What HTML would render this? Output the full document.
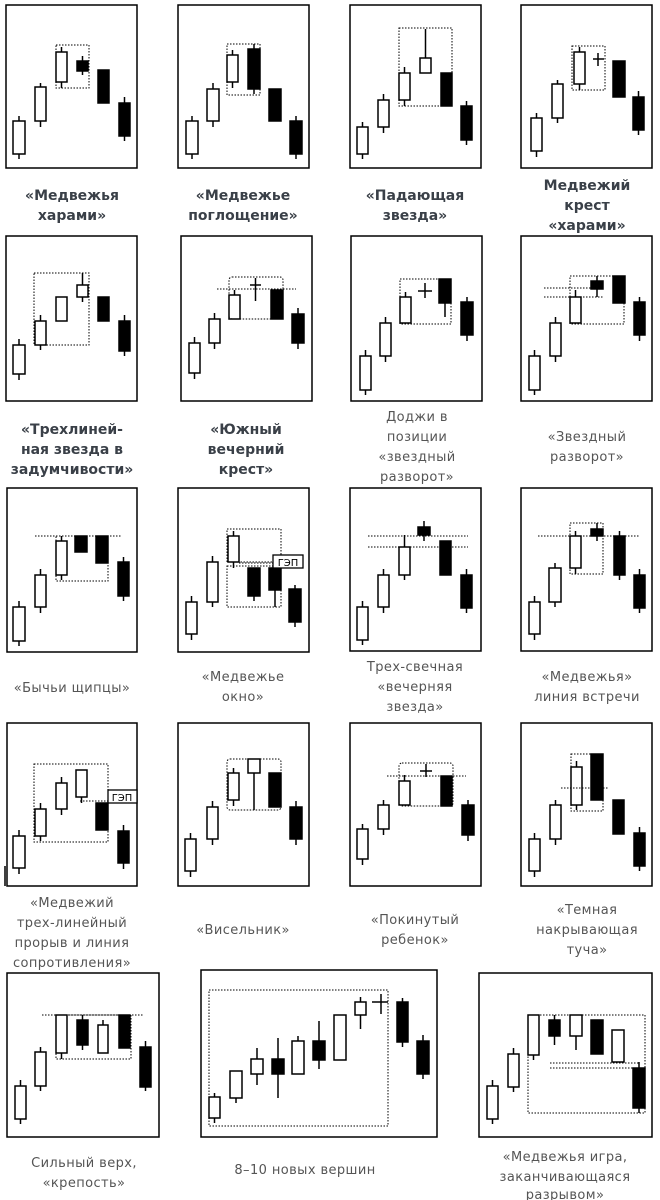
<!DOCTYPE html>
<html><head><meta charset="utf-8"><style>
body{margin:0;background:#fff}
svg{display:block}
.f{fill:none;stroke:#000;stroke-width:1.5}
.w{fill:#fff;stroke:#000;stroke-width:1.5}
.b{fill:#000;stroke:#000;stroke-width:1.5}
.k{stroke:#000;stroke-width:1.5}
.d{fill:none;stroke:#000;stroke-width:1;stroke-dasharray:1.5 1.5}
.t{font-family:"DejaVu Sans",sans-serif;font-size:14px;fill:#3a4048;text-anchor:middle;font-weight:bold}
.n{font-family:"DejaVu Sans",sans-serif;font-size:13px;letter-spacing:0.4px;fill:#555;text-anchor:middle}
</style></head><body>
<svg width="660" height="1200" viewBox="0 0 660 1200" xmlns="http://www.w3.org/2000/svg">
<!-- frames -->
<rect class="f" x="6" y="5" width="131" height="163"/>
<rect class="f" x="178" y="5" width="131" height="163"/>
<rect class="f" x="350" y="5" width="131" height="163"/>
<rect class="f" x="521" y="5" width="131" height="163"/>
<rect class="f" x="6" y="236" width="131" height="165"/>
<rect class="f" x="181" y="236" width="131" height="165"/>
<rect class="f" x="351" y="236" width="131" height="165"/>
<rect class="f" x="521" y="236" width="131" height="165"/>
<rect class="f" x="7" y="488" width="130" height="164"/>
<rect class="f" x="178" y="488" width="131" height="164"/>
<rect class="f" x="350" y="488" width="131" height="163"/>
<rect class="f" x="521" y="488" width="131" height="163"/>
<rect class="f" x="7" y="723" width="130" height="163"/>
<rect class="f" x="178" y="723" width="131" height="163"/>
<rect class="f" x="350" y="723" width="131" height="163"/>
<rect class="f" x="521" y="723" width="131" height="163"/>
<rect class="f" x="7" y="973" width="152" height="164"/>
<rect class="f" x="201" y="970" width="236" height="167"/>
<rect class="f" x="479" y="973" width="173" height="164"/>

<!-- P1 -->
<line class="k" x1="19" y1="116" x2="19" y2="159"/><rect class="w" x="13" y="121" width="12" height="33"/>
<line class="k" x1="40.5" y1="83" x2="40.5" y2="127"/><rect class="w" x="35" y="87" width="11" height="34"/>
<line class="k" x1="61.5" y1="47" x2="61.5" y2="88"/><rect class="w" x="56" y="52" width="11" height="30"/>
<line class="k" x1="82.5" y1="56" x2="82.5" y2="75"/><rect class="b" x="77" y="61" width="11" height="10"/>
<rect class="b" x="98" y="70" width="11" height="33"/>
<line class="k" x1="124.5" y1="97" x2="124.5" y2="141"/><rect class="b" x="119" y="103" width="11" height="33"/>
<rect class="d" x="56" y="45" width="33" height="43"/>
<!-- P2 -->
<line class="k" x1="192" y1="116" x2="192" y2="159"/><rect class="w" x="186" y="121" width="12" height="33"/>
<line class="k" x1="213" y1="83" x2="213" y2="127"/><rect class="w" x="207" y="89" width="12" height="32"/>
<line class="k" x1="232.5" y1="50" x2="232.5" y2="88"/><rect class="w" x="227" y="55" width="11" height="27"/>
<line class="k" x1="254" y1="44" x2="254" y2="94"/><rect class="b" x="248" y="49" width="12" height="40"/>
<rect class="b" x="269" y="89" width="12" height="32"/>
<line class="k" x1="296" y1="116" x2="296" y2="159"/><rect class="b" x="290" y="121" width="12" height="33"/>
<rect class="d" x="227" y="44" width="33" height="51"/>
<!-- P3 -->
<line class="k" x1="362.5" y1="122" x2="362.5" y2="159"/><rect class="w" x="357" y="127" width="11" height="27"/>
<line class="k" x1="383.5" y1="94" x2="383.5" y2="133"/><rect class="w" x="378" y="100" width="11" height="27"/>
<line class="k" x1="404.5" y1="67" x2="404.5" y2="106"/><rect class="w" x="399" y="73" width="11" height="27"/>
<line class="k" x1="425.5" y1="29" x2="425.5" y2="58"/><rect class="w" x="420" y="58" width="11" height="15"/>
<rect class="b" x="441" y="73" width="11" height="33"/>
<line class="k" x1="466.5" y1="101" x2="466.5" y2="145"/><rect class="b" x="461" y="106" width="11" height="34"/>
<rect class="d" x="399" y="28" width="53" height="78"/>
<!-- P4 -->
<line class="k" x1="536.5" y1="113" x2="536.5" y2="157"/><rect class="w" x="531" y="118" width="11" height="33"/>
<line class="k" x1="557.5" y1="80" x2="557.5" y2="123"/><rect class="w" x="552" y="84" width="11" height="34"/>
<line class="k" x1="579.5" y1="47" x2="579.5" y2="90"/><rect class="w" x="574" y="52" width="11" height="32"/>
<line class="k" x1="598" y1="53" x2="598" y2="66"/><line class="k" x1="593" y1="59" x2="604" y2="59"/>
<rect class="b" x="613" y="61" width="12" height="36"/>
<line class="k" x1="638.5" y1="91" x2="638.5" y2="135"/><rect class="b" x="633" y="97" width="11" height="33"/>
<rect class="d" x="572" y="46" width="33" height="44"/>

<!-- P5 -->
<line class="k" x1="19" y1="339" x2="19" y2="380"/><rect class="w" x="13" y="345" width="12" height="29"/>
<line class="k" x1="40.5" y1="315" x2="40.5" y2="350"/><rect class="w" x="35" y="321" width="11" height="24"/>
<rect class="w" x="56" y="297" width="11" height="24"/>
<line class="k" x1="82.5" y1="273" x2="82.5" y2="302"/><rect class="w" x="77" y="285" width="11" height="12"/>
<rect class="b" x="98" y="297" width="11" height="24"/>
<line class="k" x1="124.5" y1="315" x2="124.5" y2="356"/><rect class="b" x="119" y="321" width="11" height="30"/>
<rect class="d" x="34" y="273" width="55" height="72"/>
<!-- P6 -->
<line class="k" x1="194.5" y1="337" x2="194.5" y2="379"/><rect class="w" x="189" y="343" width="11" height="30"/>
<line class="k" x1="214.5" y1="313" x2="214.5" y2="349"/><rect class="w" x="209" y="319" width="11" height="24"/>
<line class="k" x1="234.5" y1="290" x2="234.5" y2="295"/><rect class="w" x="229" y="295" width="11" height="24"/>
<line class="k" x1="255.5" y1="278" x2="255.5" y2="301"/><line class="k" x1="250" y1="285" x2="261" y2="285"/>
<rect class="b" x="271" y="290" width="12" height="29"/>
<line class="k" x1="298" y1="308" x2="298" y2="349"/><rect class="b" x="292" y="314" width="12" height="29"/>
<rect class="d" x="229" y="277" width="54" height="42" rx="3"/>
<line class="d" x1="217" y1="289" x2="296" y2="289"/>
<!-- P7 -->
<line class="k" x1="365.5" y1="350" x2="365.5" y2="395"/><rect class="w" x="360" y="356" width="11" height="34"/>
<line class="k" x1="385.5" y1="317" x2="385.5" y2="362"/><rect class="w" x="380" y="323" width="11" height="33"/>
<line class="k" x1="405.5" y1="292" x2="405.5" y2="297"/><rect class="w" x="400" y="297" width="11" height="26"/>
<line class="k" x1="425" y1="283" x2="425" y2="298"/><line class="k" x1="418" y1="291" x2="432" y2="291"/>
<line class="k" x1="445" y1="279" x2="445" y2="317"/><rect class="b" x="439" y="279" width="12" height="24"/>
<line class="k" x1="467" y1="297" x2="467" y2="341"/><rect class="b" x="461" y="302" width="12" height="33"/>
<rect class="d" x="400" y="279" width="51" height="45"/>
<!-- P8 -->
<line class="k" x1="534.5" y1="350" x2="534.5" y2="395"/><rect class="w" x="529" y="356" width="11" height="34"/>
<line class="k" x1="555.5" y1="317" x2="555.5" y2="362"/><rect class="w" x="550" y="323" width="11" height="33"/>
<line class="k" x1="575.5" y1="290" x2="575.5" y2="297"/><rect class="w" x="570" y="297" width="11" height="26"/>
<line class="k" x1="597" y1="276" x2="597" y2="297"/><rect class="b" x="591" y="281" width="12" height="8"/>
<rect class="b" x="613" y="276" width="12" height="27"/>
<line class="k" x1="639.5" y1="297" x2="639.5" y2="341"/><rect class="b" x="634" y="302" width="11" height="33"/>
<rect class="d" x="570" y="276" width="54" height="48"/>
<line class="d" x1="544" y1="288" x2="604" y2="288"/><line class="d" x1="544" y1="297" x2="604" y2="297"/>

<!-- P9 -->
<line class="k" x1="19" y1="601" x2="19" y2="646"/><rect class="w" x="13" y="607" width="12" height="34"/>
<line class="k" x1="40.5" y1="569" x2="40.5" y2="613"/><rect class="w" x="35" y="575" width="11" height="32"/>
<line class="k" x1="61.5" y1="536" x2="61.5" y2="580"/><rect class="w" x="56" y="541" width="11" height="34"/>
<rect class="b" x="75" y="536" width="12" height="16"/>
<rect class="b" x="96" y="536" width="12" height="27"/>
<line class="k" x1="123.5" y1="557" x2="123.5" y2="601"/><rect class="b" x="118" y="562" width="11" height="34"/>
<line class="d" x1="35" y1="536" x2="121" y2="536"/>
<rect class="d" x="56" y="536" width="52" height="45"/>
<!-- P10 -->
<line class="k" x1="191.5" y1="596" x2="191.5" y2="640"/><rect class="w" x="186" y="602" width="11" height="32"/>
<line class="k" x1="212.5" y1="556" x2="212.5" y2="607"/><rect class="w" x="207" y="562" width="11" height="40"/>
<line class="k" x1="233.5" y1="531" x2="233.5" y2="568"/><rect class="w" x="228" y="536" width="11" height="26"/>
<line class="k" x1="254" y1="568" x2="254" y2="601"/><rect class="b" x="248" y="568" width="12" height="28"/>
<line class="k" x1="275" y1="568" x2="275" y2="607"/><rect class="b" x="269" y="568" width="12" height="22"/>
<line class="k" x1="295" y1="585" x2="295" y2="627"/><rect class="b" x="289" y="589" width="12" height="33"/>
<rect class="d" x="227" y="529" width="54" height="33"/>
<rect class="d" x="227" y="566" width="54" height="41"/>
<line class="d" x1="239" y1="563" x2="273" y2="563"/>
<rect x="273" y="555" width="30" height="13" fill="#fff" stroke="#000" stroke-width="1.3"/>
<text x="288" y="566" font-family="DejaVu Sans,sans-serif" font-size="10" text-anchor="middle">ГЭП</text>
<!-- P11 -->
<line class="k" x1="362.5" y1="601" x2="362.5" y2="645"/><rect class="w" x="357" y="607" width="11" height="33"/>
<line class="k" x1="383.5" y1="569" x2="383.5" y2="613"/><rect class="w" x="378" y="575" width="11" height="32"/>
<line class="k" x1="404.5" y1="535" x2="404.5" y2="580"/><rect class="w" x="399" y="547" width="11" height="28"/>
<line class="k" x1="424" y1="521" x2="424" y2="541"/><rect class="b" x="418" y="527" width="12" height="8"/>
<rect class="b" x="440" y="541" width="11" height="34"/>
<line class="k" x1="466.5" y1="569" x2="466.5" y2="613"/><rect class="b" x="461" y="575" width="11" height="33"/>
<line class="d" x1="368" y1="536" x2="468" y2="536"/><line class="d" x1="368" y1="547" x2="468" y2="547"/>
<!-- P12 -->
<line class="k" x1="534.5" y1="596" x2="534.5" y2="640"/><rect class="w" x="529" y="602" width="11" height="32"/>
<line class="k" x1="555" y1="563" x2="555" y2="607"/><rect class="w" x="549" y="568" width="12" height="34"/>
<line class="k" x1="575.5" y1="531" x2="575.5" y2="574"/><rect class="w" x="570" y="536" width="11" height="32"/>
<line class="k" x1="597" y1="523" x2="597" y2="541"/><rect class="b" x="591" y="529" width="12" height="7"/>
<line class="k" x1="619.5" y1="531" x2="619.5" y2="580"/><rect class="b" x="614" y="536" width="11" height="39"/>
<line class="k" x1="639.5" y1="569" x2="639.5" y2="613"/><rect class="b" x="634" y="575" width="11" height="33"/>
<line class="d" x1="538" y1="536" x2="640" y2="536"/>
<rect class="d" x="570" y="523" width="33" height="51"/>

<!-- P13 -->
<line class="k" x1="5" y1="866" x2="5" y2="886"/>
<line class="k" x1="19" y1="830" x2="19" y2="874"/><rect class="w" x="13" y="836" width="12" height="32"/>
<line class="k" x1="40.5" y1="803" x2="40.5" y2="841"/><rect class="w" x="35" y="809" width="11" height="27"/>
<line class="k" x1="61.5" y1="777" x2="61.5" y2="815"/><rect class="w" x="56" y="783" width="11" height="26"/>
<line class="k" x1="81.5" y1="770" x2="81.5" y2="803"/><rect class="w" x="76" y="770" width="11" height="27"/>
<rect class="b" x="96" y="803" width="12" height="27"/>
<line class="k" x1="123.5" y1="825" x2="123.5" y2="869"/><rect class="b" x="118" y="831" width="11" height="32"/>
<rect class="d" x="34" y="764" width="74" height="78"/>
<line class="d" x1="80" y1="801" x2="108" y2="801"/>
<rect x="108" y="790" width="29" height="13" fill="#fff" stroke="#000" stroke-width="1.3"/>
<text x="122" y="801" font-family="DejaVu Sans,sans-serif" font-size="10" text-anchor="middle">ГЭП</text>
<!-- P14 -->
<line class="k" x1="190.5" y1="833" x2="190.5" y2="877"/><rect class="w" x="185" y="839" width="11" height="32"/>
<line class="k" x1="212.5" y1="801" x2="212.5" y2="845"/><rect class="w" x="207" y="807" width="11" height="32"/>
<line class="k" x1="233.5" y1="768" x2="233.5" y2="806"/><rect class="w" x="228" y="773" width="11" height="27"/>
<line class="k" x1="254" y1="773" x2="254" y2="810"/><rect class="w" x="248" y="759" width="12" height="14"/>
<rect class="b" x="269" y="773" width="12" height="34"/>
<line class="k" x1="296" y1="801" x2="296" y2="845"/><rect class="b" x="290" y="807" width="12" height="32"/>
<rect class="d" x="227" y="759" width="54" height="51" rx="3"/>
<!-- P15 -->
<line class="k" x1="362.5" y1="824" x2="362.5" y2="865"/><rect class="w" x="357" y="829" width="11" height="30"/>
<line class="k" x1="383.5" y1="800" x2="383.5" y2="835"/><rect class="w" x="378" y="805" width="11" height="24"/>
<line class="k" x1="404.5" y1="775" x2="404.5" y2="781"/><rect class="w" x="399" y="781" width="11" height="24"/>
<line class="k" x1="426" y1="764" x2="426" y2="777"/><line class="k" x1="420" y1="771" x2="432" y2="771"/>
<rect class="b" x="441" y="776" width="11" height="30"/>
<line class="k" x1="468" y1="800" x2="468" y2="841"/><rect class="b" x="462" y="805" width="12" height="30"/>
<rect class="d" x="399" y="763" width="54" height="43" rx="3"/>
<line class="d" x1="387" y1="776" x2="466" y2="776"/>
<!-- P16 -->
<line class="k" x1="534.5" y1="833" x2="534.5" y2="877"/><rect class="w" x="529" y="839" width="11" height="32"/>
<line class="k" x1="555.5" y1="800" x2="555.5" y2="845"/><rect class="w" x="550" y="805" width="11" height="34"/>
<line class="k" x1="576.5" y1="761" x2="576.5" y2="810"/><rect class="w" x="571" y="767" width="11" height="38"/>
<rect class="b" x="591" y="754" width="12" height="46"/>
<rect class="b" x="613" y="800" width="11" height="34"/>
<line class="k" x1="639.5" y1="827" x2="639.5" y2="871"/><rect class="b" x="634" y="833" width="11" height="33"/>
<rect class="d" x="571" y="754" width="32" height="57"/>
<line class="d" x1="561" y1="788" x2="609" y2="788"/>

<!-- P17 -->
<line class="k" x1="20.5" y1="1080" x2="20.5" y2="1124"/><rect class="w" x="15" y="1086" width="11" height="33"/>
<line class="k" x1="40.5" y1="1047" x2="40.5" y2="1091"/><rect class="w" x="35" y="1052" width="11" height="34"/>
<line class="k" x1="61.5" y1="1015" x2="61.5" y2="1059"/><rect class="w" x="56" y="1015" width="11" height="38"/>
<line class="k" x1="82.5" y1="1015" x2="82.5" y2="1050"/><rect class="b" x="77" y="1020" width="11" height="25"/>
<line class="k" x1="103" y1="1020" x2="103" y2="1025"/><rect class="w" x="98" y="1025" width="10" height="28"/>
<rect class="b" x="119" y="1015" width="11" height="33"/>
<line class="k" x1="145.5" y1="1041" x2="145.5" y2="1091"/><rect class="b" x="140" y="1047" width="11" height="40"/>
<line class="d" x1="42" y1="1015" x2="143" y2="1015"/>
<rect class="d" x="56" y="1015" width="75" height="44"/>
<!-- P18 -->
<rect class="d" x="209" y="990" width="179" height="136"/>
<line class="k" x1="214.5" y1="1093" x2="214.5" y2="1123"/><rect class="w" x="209" y="1097" width="11" height="21"/>
<line class="k" x1="236" y1="1071" x2="236" y2="1103"/><rect class="w" x="230" y="1071" width="12" height="27"/>
<line class="k" x1="257" y1="1048" x2="257" y2="1085"/><rect class="w" x="251" y="1059" width="12" height="15"/>
<line class="k" x1="278" y1="1038" x2="278" y2="1098"/><rect class="b" x="272" y="1059" width="12" height="15"/>
<line class="k" x1="298" y1="1036" x2="298" y2="1041"/><rect class="w" x="292" y="1041" width="12" height="33"/>
<line class="k" x1="319" y1="1021" x2="319" y2="1069"/><rect class="b" x="313" y="1041" width="12" height="19"/>
<rect class="w" x="334" y="1015" width="12" height="45"/>
<line class="k" x1="360.5" y1="997" x2="360.5" y2="1029"/><rect class="w" x="355" y="1002" width="11" height="13"/>
<line class="k" x1="381" y1="994" x2="381" y2="1014"/><line class="k" x1="372" y1="1002" x2="388" y2="1002"/>
<line class="k" x1="402.5" y1="998" x2="402.5" y2="1047"/><rect class="b" x="397" y="1002" width="11" height="40"/>
<line class="k" x1="423" y1="1035" x2="423" y2="1079"/><rect class="b" x="417" y="1041" width="12" height="33"/>
<!-- P19 -->
<line class="k" x1="492.5" y1="1080" x2="492.5" y2="1124"/><rect class="w" x="487" y="1086" width="11" height="33"/>
<line class="k" x1="513.5" y1="1048" x2="513.5" y2="1092"/><rect class="w" x="508" y="1054" width="11" height="33"/>
<line class="k" x1="533.5" y1="1015" x2="533.5" y2="1060"/><rect class="w" x="528" y="1015" width="11" height="40"/>
<line class="k" x1="554.5" y1="1015" x2="554.5" y2="1045"/><rect class="b" x="549" y="1020" width="11" height="16"/>
<line class="k" x1="576" y1="1015" x2="576" y2="1050"/><rect class="w" x="570" y="1015" width="12" height="21"/>
<rect class="b" x="591" y="1020" width="12" height="34"/>
<rect class="w" x="612" y="1030" width="12" height="32"/>
<line class="k" x1="639" y1="1062" x2="639" y2="1113"/><rect class="b" x="633" y="1068" width="12" height="40"/>
<rect class="d" x="528" y="1015" width="117" height="98"/>
<line class="d" x1="550" y1="1063" x2="640" y2="1063"/><line class="d" x1="550" y1="1068" x2="640" y2="1068"/>

<!-- labels -->
<text class="t" x="72" y="200">«Медвежья</text><text class="t" x="72" y="220">харами»</text>
<text class="t" x="243" y="200">«Медвежье</text><text class="t" x="243" y="220">поглощение»</text>
<text class="t" x="415" y="200">«Падающая</text><text class="t" x="415" y="220">звезда»</text>
<text class="t" x="587" y="190">Медвежий</text><text class="t" x="587" y="210">крест</text><text class="t" x="587" y="230">«харами»</text>
<text class="t" x="72" y="434">«Трехлиней-</text><text class="t" x="72" y="454">ная звезда в</text><text class="t" x="72" y="474">задумчивости»</text>
<text class="t" x="246" y="434">«Южный</text><text class="t" x="246" y="454">вечерний</text><text class="t" x="246" y="474">крест»</text>
<text class="n" x="417" y="421">Доджи в</text><text class="n" x="417" y="441">позиции</text><text class="n" x="417" y="461">«звездный</text><text class="n" x="417" y="481">разворот»</text>
<text class="n" x="587" y="441">«Звездный</text><text class="n" x="587" y="461">разворот»</text>
<text class="n" x="72" y="692">«Бычьи щипцы»</text>
<text class="n" x="243" y="681">«Медвежье</text><text class="n" x="243" y="701">окно»</text>
<text class="n" x="415" y="671">Трех-свечная</text><text class="n" x="415" y="691">«вечерняя</text><text class="n" x="415" y="711">звезда»</text>
<text class="n" x="587" y="681">«Медвежья»</text><text class="n" x="587" y="701">линия встречи</text>
<text class="n" x="72" y="907">«Медвежий</text><text class="n" x="72" y="927">трех-линейный</text><text class="n" x="72" y="947">прорыв и линия</text><text class="n" x="72" y="967">сопротивления»</text>
<text class="n" x="243" y="934">«Висельник»</text>
<text class="n" x="415" y="924">«Покинутый</text><text class="n" x="415" y="944">ребенок»</text>
<text class="n" x="587" y="914">«Темная</text><text class="n" x="587" y="934">накрывающая</text><text class="n" x="587" y="954">туча»</text>
<text class="n" x="84" y="1167">Сильный верх,</text><text class="n" x="84" y="1187">«крепость»</text>
<text class="n" x="305" y="1174">8–10 новых вершин</text>
<text class="n" x="565" y="1161">«Медвежья игра,</text><text class="n" x="565" y="1181">заканчивающаяся</text><text class="n" x="565" y="1199">разрывом»</text>
</svg>
</body></html>
